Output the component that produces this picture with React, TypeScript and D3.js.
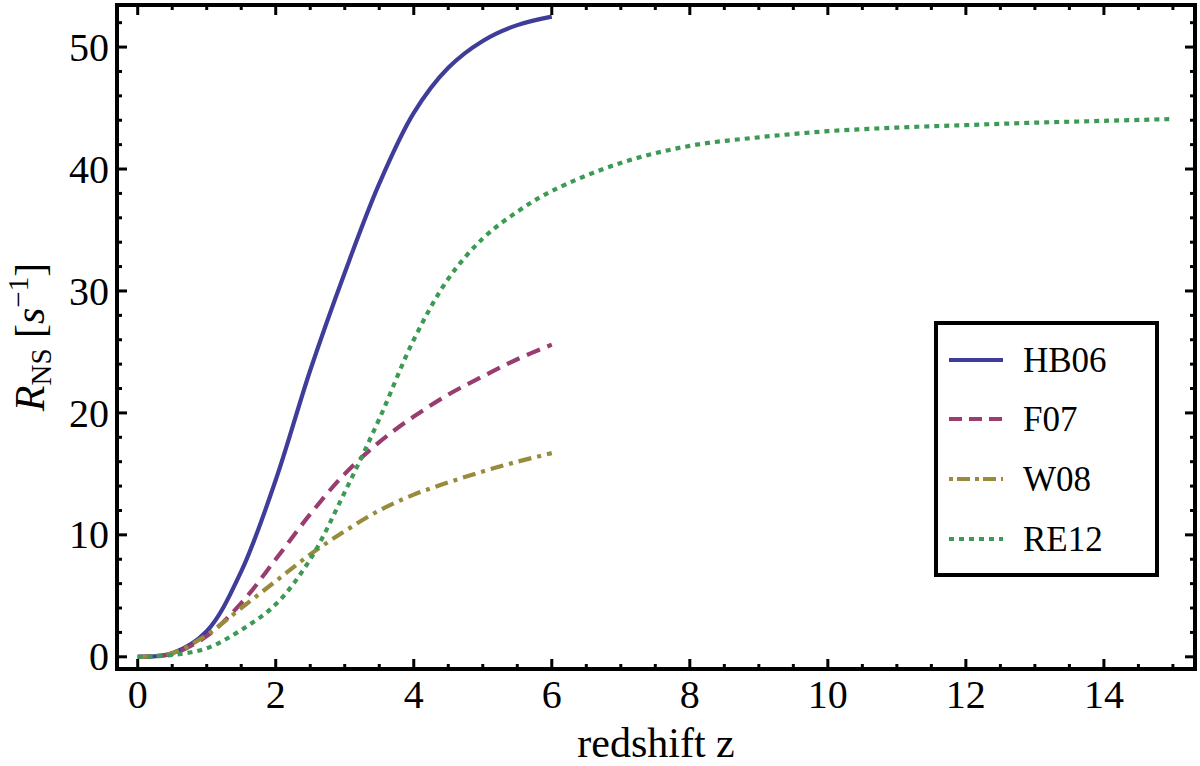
import React, { useEffect } from "react";
import * as d3 from "d3";

// values
const zShort = [0, 0.5, 1, 1.5, 2, 2.5, 3, 3.5, 4, 4.5, 5, 5.5, 6];
const hb06 = [0, 0.3, 2.1, 7.0, 14.5, 23.5, 31.5, 38.8, 44.6, 48.3, 50.5, 51.8, 52.5];
const f07 = [0, 0.25, 1.7, 4.4, 8.0, 11.7, 15.0, 17.6, 19.7, 21.5, 23.0, 24.4, 25.6];
const w08 = [0, 0.3, 1.8, 4.0, 6.2, 8.4, 10.3, 12.0, 13.3, 14.3, 15.2, 16.0, 16.7];
const zLong = [0, 0.5, 1, 1.5, 2, 2.5, 3, 3.5, 4, 4.5, 5, 5.5, 6, 7, 8, 9, 10, 11, 12, 13, 14, 15];
const re12 = [0, 0.15, 0.7, 2.2, 4.3, 8.0, 13.5, 19.5, 26.0, 31.0, 34.3, 36.5, 38.2, 40.5, 41.9, 42.6, 43.1, 43.4, 43.6, 43.8, 43.95, 44.1];

const xMajor = [0, 2, 4, 6, 8, 10, 12, 14];
const yMajor = [0, 10, 20, 30, 40, 50];

const series = [
  { name: "HB06", z: zShort, r: hb06, color: "#3f3d99", dash: null, legendDash: null },
  { name: "F07", z: zShort, r: f07, color: "#993d71", dash: "14,8", legendDash: "13,7" },
  { name: "W08", z: zShort, r: w08, color: "#998b3d", dash: "13,6,4,6", legendDash: "4,4,13,5" },
  { name: "RE12", z: zLong, r: re12, color: "#3d9956", dash: "5,5", legendDash: "5,5" },
];

const W = 1200;
const H = 766;
const font = "'Liberation Serif', 'Times New Roman', Times, serif";

const App = () => {
  useEffect(() => {
    document.body.style.margin = "0";
  }, []);

  const x = d3.scaleLinear().domain([-0.3, 15.32]).range([117, 1195]);
  const y = d3.scaleLinear().domain([-1, 53.45]).range([669, 5]);
  const [x0, x1] = x.range();
  const [y0, y1] = y.range();

  const xMinor = d3.range(0, 15.01, 0.5).filter((v) => v % 2 !== 0);
  const yMinor = d3.range(0, 53, 2).filter((v) => v % 10 !== 0);

  const line = d3
    .line<[number, number]>()
    .x((d) => x(d[0]))
    .y((d) => y(d[1]))
    .curve(d3.curveCatmullRom.alpha(0.5));

  const legendRows = [360, 419, 479, 539];

  return (
    <svg width={W} height={H} style={{ display: "block", background: "#fff" }}>
      {/* curves */}
      <g fill="none" strokeWidth={4.2}>
        {series.map((s) => (
          <path
            key={s.name}
            d={line(s.z.map((z, i) => [z, s.r[i]] as [number, number])) || ""}
            stroke={s.color}
            strokeDasharray={s.dash || undefined}
          />
        ))}
      </g>

      {/* ticks */}
      <g stroke="#000" strokeWidth={3}>
        {xMajor.map((v) => (
          <g key={"xM" + v}>
            <line x1={x(v)} x2={x(v)} y1={y0} y2={y0 - 10} />
            <line x1={x(v)} x2={x(v)} y1={y1} y2={y1 + 10} />
          </g>
        ))}
        {xMinor.map((v) => (
          <g key={"xm" + v}>
            <line x1={x(v)} x2={x(v)} y1={y0} y2={y0 - 5} />
            <line x1={x(v)} x2={x(v)} y1={y1} y2={y1 + 5} />
          </g>
        ))}
        {yMajor.map((v) => (
          <g key={"yM" + v}>
            <line x1={x0} x2={x0 + 10} y1={y(v)} y2={y(v)} />
            <line x1={x1} x2={x1 - 10} y1={y(v)} y2={y(v)} />
          </g>
        ))}
        {yMinor.map((v) => (
          <g key={"ym" + v}>
            <line x1={x0} x2={x0 + 5} y1={y(v)} y2={y(v)} />
            <line x1={x1} x2={x1 - 5} y1={y(v)} y2={y(v)} />
          </g>
        ))}
      </g>

      {/* frame */}
      <rect x={x0} y={y1} width={x1 - x0} height={y0 - y1} fill="none" stroke="#000" strokeWidth={4} />

      {/* tick labels */}
      <g fontFamily={font} fontSize={40} fill="#000">
        {xMajor.map((v) => (
          <text key={"xl" + v} x={x(v)} y={708} textAnchor="middle">
            {v}
          </text>
        ))}
        {yMajor.map((v) => (
          <text key={"yl" + v} x={109} y={y(v)} dy="0.34em" textAnchor="end">
            {v}
          </text>
        ))}
      </g>

      {/* axis labels */}
      <text x={(x0 + x1) / 2} y={757} textAnchor="middle" fontFamily={font} fontSize={42}>
        redshift z
      </text>
      <text
        transform={`translate(44,${(y0 + y1) / 2}) rotate(-90)`}
        textAnchor="middle"
        fontFamily={font}
        fontSize={42}
      >
        <tspan fontStyle="italic">R</tspan>
        <tspan fontSize={29} dy={7}>NS</tspan>
        <tspan dy={-7}> [</tspan>
        <tspan fontStyle="italic">s</tspan>
        <tspan fontSize={29} dy={-16}>−1</tspan>
        <tspan dy={16}>]</tspan>
      </text>

      {/* legend */}
      <rect x={936} y={323} width={221} height={252} fill="#fff" stroke="#000" strokeWidth={4} />
      {series.map((s, i) => (
        <g key={"lg" + s.name}>
          <line
            x1={949}
            x2={1003}
            y1={legendRows[i]}
            y2={legendRows[i]}
            stroke={s.color}
            strokeWidth={4.2}
            strokeDasharray={s.legendDash || undefined}
          />
          <text x={1023} y={legendRows[i]} dy="0.34em" fontFamily={font} fontSize={35}>
            {s.name}
          </text>
        </g>
      ))}
    </svg>
  );
};

export default App;
